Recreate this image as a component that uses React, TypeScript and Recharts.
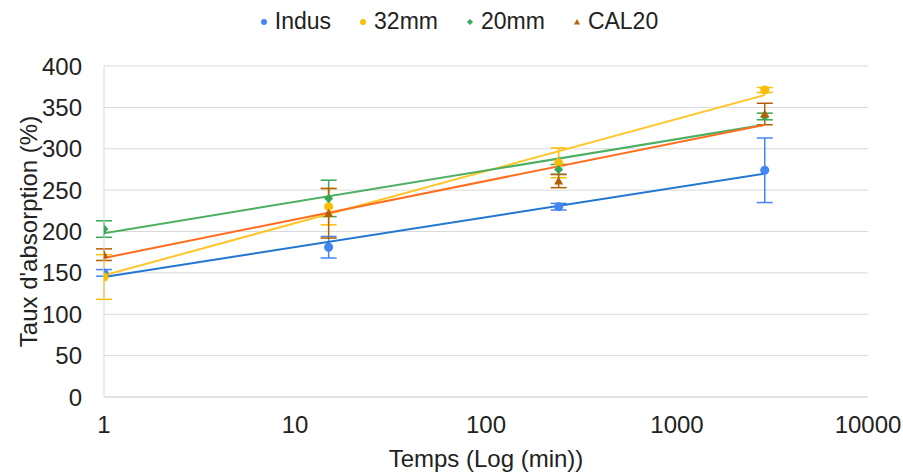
import {
  ScatterChart,
  Scatter,
  XAxis,
  YAxis,
  CartesianGrid,
  ErrorBar,
  Label,
} from "recharts";

const times = [1, 15, 240, 2880];
const trendTimes = [1, 2880];

const indus = [150, 181, 230, 274];
const indusErr = [4, 13, 4, 39];
const mm32 = [145, 230, 283, 371];
const mm32Err = [27, 22, 18, 3];
const mm20 = [203, 240, 275, 339];
const mm20Err = [10, 22, 6, 4];
const cal20 = [172, 222, 261, 342];
const cal20Err = [7, 30, 8, 13];

const indusTrend = [145, 270];
const mm32Trend = [147, 365];
const mm20Trend = [198, 329];
const cal20Trend = [168, 329];

const xTicks = [1, 10, 100, 1000, 10000];
const yTicks = [0, 50, 100, 150, 200, 250, 300, 350, 400];

const FONT = '"Liberation Sans", Arial, sans-serif';
const TEXT = "#222";

const points = (vals: number[], errs: number[]) =>
  times.map((t, i) => ({ x: t, y: vals[i], err: errs[i] }));
const trend = (vals: number[]) =>
  trendTimes.map((t, i) => ({ x: t, y: vals[i] }));

const series = [
  { name: "Indus", data: points(indus, indusErr), trend: trend(indusTrend), color: "#4285f4", line: "#2277d2", shape: "circle" },
  { name: "32mm", data: points(mm32, mm32Err), trend: trend(mm32Trend), color: "#fbbc04", line: "#ffc629", shape: "circle" },
  { name: "20mm", data: points(mm20, mm20Err), trend: trend(mm20Trend), color: "#34a853", line: "#4caf62", shape: "diamond" },
  { name: "CAL20", data: points(cal20, cal20Err), trend: trend(cal20Trend), color: "#b45f06", line: "#ff6d1f", shape: "triangle" },
];

const marker = (shape: string, color: string, r: number) => (p: any) => {
  const { cx, cy } = p;
  if (cx == null || cy == null) return <g />;
  if (shape === "diamond")
    return <path d={`M${cx},${cy - r} L${cx + r},${cy} L${cx},${cy + r} L${cx - r},${cy} Z`} fill={color} />;
  if (shape === "triangle")
    return <path d={`M${cx},${cy - r} L${cx + r},${cy + r * 0.8} L${cx - r},${cy + r * 0.8} Z`} fill={color} />;
  return <circle cx={cx} cy={cy} r={r} fill={color} />;
};

const LegendBox = () => (
  <div
    style={{
      position: "absolute",
      left: 0,
      top: 8,
      width: 918,
      display: "flex",
      justifyContent: "center",
      alignItems: "center",
      fontFamily: FONT,
      fontSize: 23,
      color: TEXT,
    }}
  >
    {series.map((s) => (
      <div key={s.name} style={{ display: "flex", alignItems: "center", margin: "0 14px" }}>
        <svg width={8} height={8} style={{ marginRight: 7 }}>
          {marker(s.shape, s.color, 3)({ cx: 4, cy: 4 })}
        </svg>
        <span>{s.name}</span>
      </div>
    ))}
  </div>
);

const tickStyle = { fill: TEXT, fontSize: 24, fontFamily: FONT };

export default function App() {
  return (
    <div style={{ position: "absolute", left: 0, top: 0, width: 903, height: 472, background: "#fff" }}>
      <ScatterChart width={903} height={472} margin={{ top: 66, right: 35, left: 44, bottom: 45 }}>
        <CartesianGrid vertical={false} stroke="#d9d9d9" />
        <XAxis
          type="number"
          dataKey="x"
          scale="log"
          domain={[1, 10000]}
          ticks={xTicks}
          allowDataOverflow
          stroke="#d9d9d9"
          tickLine={false}
          tickSize={0}
          tickMargin={19}
          tick={tickStyle}
          interval={0}
        >
          <Label value="Temps (Log (min))" position="bottom" offset={23} style={tickStyle} />
        </XAxis>
        <YAxis
          type="number"
          dataKey="y"
          domain={[0, 400]}
          ticks={yTicks}
          width={60}
          stroke="#d9d9d9"
          tickLine={false}
          tickSize={0}
          tickMargin={22}
          tick={tickStyle}
        >
          <Label value="Taux d'absorption (%)" angle={-90} position="insideLeft" offset={-16} style={{ ...tickStyle, textAnchor: "middle" }} />
        </YAxis>
        {series.map((s) => (
          <Scatter
            key={s.name + "-trend"}
            name={s.name + " trend"}
            data={s.trend}
            line={{ stroke: s.line, strokeWidth: 2 }}
            shape={() => <g />}
            legendType="none"
            isAnimationActive={false}
          />
        ))}
        {series.map((s) => (
          <Scatter
            key={s.name}
            name={s.name}
            data={s.data}
            shape={marker(s.shape, s.color, 4.5)}
            isAnimationActive={false}
          >
            <ErrorBar dataKey="err" direction="y" width={8} stroke={s.color} strokeWidth={1.5} />
          </Scatter>
        ))}
      </ScatterChart>
      <LegendBox />
    </div>
  );
}
